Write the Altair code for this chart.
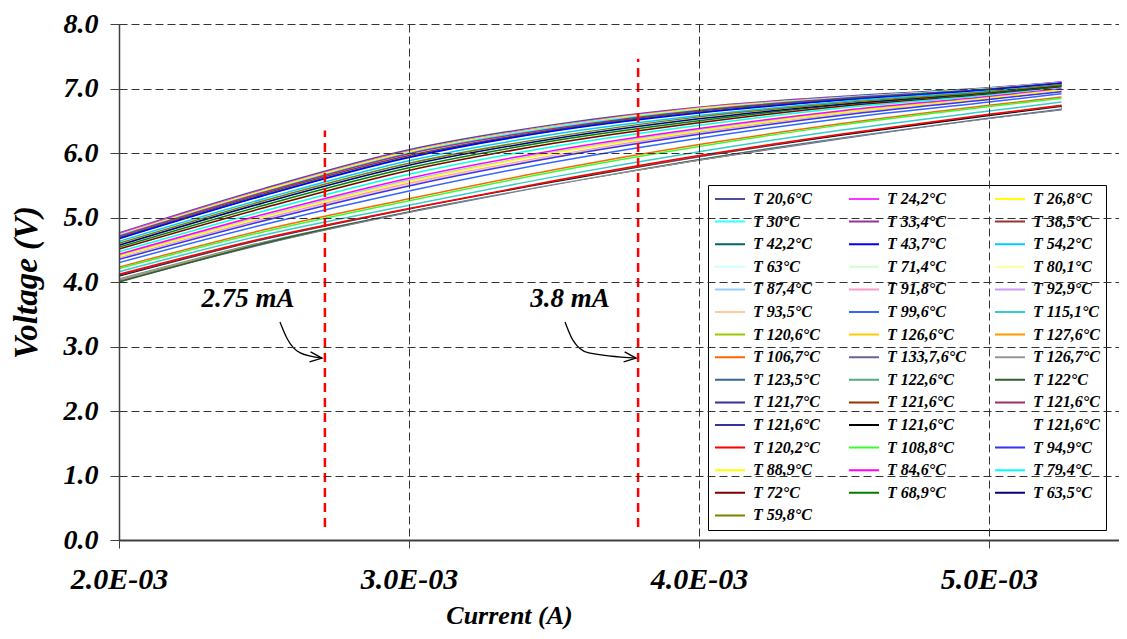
import altair as alt
import pandas as pd

FONT = "Liberation Serif"

# Current (A) sample positions along every curve
CURRENT_A = [0.0020, 0.0025, 0.0030, 0.0035, 0.0040, 0.0045, 0.0050, 0.00525]

SERIES_LABELS = [
    "T 20,6°C", "T 24,2°C", "T 26,8°C",
    "T 30°C", "T 33,4°C", "T 38,5°C",
    "T 42,2°C", "T 43,7°C", "T 54,2°C",
    "T 63°C", "T 71,4°C", "T 80,1°C",
    "T 87,4°C", "T 91,8°C", "T 92,9°C",
    "T 93,5°C", "T 99,6°C", "T 115,1°C",
    "T 120,6°C", "T 126,6°C", "T 127,6°C",
    "T 106,7°C", "T 133,7,6°C", "T 126,7°C",
    "T 123,5°C", "T 122,6°C", "T 122°C",
    "T 121,7°C", "T 121,6°C", "T 121,6°C",
    "T 121,6°C", "T 121,6°C", "T 121,6°C",
    "T 120,2°C", "T 108,8°C", "T 94,9°C",
    "T 88,9°C", "T 84,6°C", "T 79,4°C",
    "T 72°C", "T 68,9°C", "T 63,5°C",
    "T 59,8°C",
]

SERIES_COLORS = [
    "#4D4D99", "#FF33FF", "#FFFF00",
    "#33FFFF", "#993399", "#993333",
    "#006666", "#0000FF", "#00CCFF",
    "#CCFFFF", "#CCFFCC", "#FFFF99",
    "#99CCFF", "#FF99CC", "#CC99FF",
    "#FFCC99", "#3366FF", "#33CCCC",
    "#99CC00", "#FFCC00", "#FF9900",
    "#FF6600", "#666699", "#969696",
    "#336699", "#55AA80", "#2F5F2F",
    "#333399", "#993300", "#993366",
    "#333399", "#000000", "#FFFFFF",
    "#FF0000", "#33FF33", "#3333FF",
    "#FFFF00", "#FF00FF", "#00FFFF",
    "#800000", "#008000", "#000080",
    "#808000",
]

# Voltage (V) of each series at CURRENT_A
VOLTAGES = [
    [4.76, 5.45, 6.05, 6.44, 6.71, 6.88, 7.01, 7.10],
    [4.75, 5.43, 6.03, 6.42, 6.70, 6.87, 7.00, 7.10],
    [4.73, 5.42, 6.02, 6.41, 6.69, 6.86, 7.00, 7.09],
    [4.72, 5.40, 6.00, 6.40, 6.67, 6.86, 7.00, 7.09],
    [4.71, 5.39, 5.99, 6.38, 6.66, 6.85, 6.99, 7.09],
    [4.69, 5.37, 5.96, 6.36, 6.65, 6.84, 6.99, 7.08],
    [4.68, 5.35, 5.94, 6.35, 6.63, 6.83, 6.98, 7.08],
    [4.67, 5.34, 5.93, 6.34, 6.62, 6.82, 6.98, 7.08],
    [4.63, 5.29, 5.88, 6.29, 6.58, 6.80, 6.96, 7.06],
    [4.58, 5.23, 5.81, 6.23, 6.54, 6.77, 6.94, 7.05],
    [4.52, 5.16, 5.74, 6.16, 6.48, 6.73, 6.92, 7.03],
    [4.46, 5.09, 5.66, 6.09, 6.42, 6.69, 6.90, 7.02],
    [4.41, 5.02, 5.58, 6.01, 6.36, 6.64, 6.86, 6.98],
    [4.37, 4.98, 5.53, 5.96, 6.32, 6.61, 6.84, 6.96],
    [4.37, 4.97, 5.51, 5.95, 6.31, 6.60, 6.84, 6.96],
    [4.36, 4.96, 5.51, 5.95, 6.30, 6.60, 6.84, 6.96],
    [4.30, 4.89, 5.41, 5.86, 6.23, 6.54, 6.79, 6.92],
    [4.16, 4.73, 5.19, 5.63, 6.02, 6.36, 6.65, 6.79],
    [4.11, 4.67, 5.13, 5.56, 5.95, 6.29, 6.59, 6.73],
    [4.04, 4.61, 5.10, 5.52, 5.90, 6.25, 6.55, 6.69],
    [4.03, 4.60, 5.09, 5.52, 5.89, 6.24, 6.54, 6.68],
    [4.23, 4.81, 5.29, 5.74, 6.13, 6.46, 6.74, 6.87],
    [4.01, 4.59, 5.08, 5.51, 5.89, 6.23, 6.54, 6.67],
    [4.03, 4.60, 5.09, 5.52, 5.89, 6.24, 6.54, 6.68],
    [4.06, 4.63, 5.10, 5.53, 5.91, 6.25, 6.55, 6.69],
    [4.07, 4.63, 5.10, 5.53, 5.91, 6.26, 6.56, 6.70],
    [4.00, 4.60, 5.10, 5.53, 5.91, 6.26, 6.56, 6.70],
    [4.10, 4.66, 5.13, 5.55, 5.94, 6.28, 6.58, 6.72],
    [4.09, 4.66, 5.12, 5.55, 5.93, 6.28, 6.58, 6.72],
    [4.09, 4.65, 5.12, 5.54, 5.93, 6.27, 6.57, 6.71],
    [4.08, 4.65, 5.11, 5.54, 5.92, 6.27, 6.57, 6.71],
    [4.08, 4.64, 5.11, 5.54, 5.92, 6.27, 6.57, 6.71],
    [4.07, 4.64, 5.11, 5.53, 5.92, 6.26, 6.56, 6.70],
    [4.12, 4.68, 5.14, 5.57, 5.96, 6.30, 6.60, 6.74],
    [4.21, 4.78, 5.26, 5.71, 6.10, 6.44, 6.72, 6.85],
    [4.35, 4.95, 5.49, 5.93, 6.29, 6.59, 6.83, 6.95],
    [4.40, 5.01, 5.56, 6.00, 6.34, 6.63, 6.86, 6.98],
    [4.43, 5.05, 5.61, 6.04, 6.38, 6.66, 6.88, 7.00],
    [4.47, 5.10, 5.67, 6.10, 6.43, 6.70, 6.90, 7.02],
    [4.51, 5.15, 5.73, 6.15, 6.47, 6.73, 6.92, 7.03],
    [4.54, 5.19, 5.77, 6.19, 6.50, 6.75, 6.93, 7.04],
    [4.57, 5.23, 5.81, 6.22, 6.53, 6.76, 6.94, 7.05],
    [4.60, 5.26, 5.84, 6.25, 6.56, 6.78, 6.95, 7.06],
]

X_TICKS = [0.002, 0.003, 0.004, 0.005]
Y_TICKS = [0, 1, 2, 3, 4, 5, 6, 7, 8]

# red dashed markers
MARK_X = [0.00271, 0.00379]
MARK_TOP = [6.35, 7.46]
MARK_BOTTOM = [0.2, 0.2]

# curved arrows
ARROW_ID = ["a", "a", "a", "a", "b", "b", "b", "b"]
ARROW_X = [0.002555, 0.002580, 0.002625, 0.002700, 0.003538, 0.003565, 0.003620, 0.003783]
ARROW_Y = [3.38, 3.12, 2.90, 2.82, 3.38, 3.10, 2.90, 2.82]
HEAD_X = [0.002700, 0.003783]
HEAD_Y = [2.82, 2.82]

ANNOT_TEXT = ["2.75 mA", "3.8 mA"]
ANNOT_X = [0.002445, 0.003555]
ANNOT_Y = [3.74, 3.74]

# ---- build tables
keys = []
seen = {}
for lab in SERIES_LABELS:
    n = seen.get(lab, 0)
    seen[lab] = n + 1
    keys.append(f"{lab}#{n}")

rows = []
for order, (key, volts) in enumerate(zip(keys, VOLTAGES)):
    for c, v in zip(CURRENT_A, volts):
        rows.append({"series": key, "order": order, "current": c, "voltage": v})
curve_df = pd.DataFrame(rows)

mark_df = pd.DataFrame({"current": MARK_X, "voltage": MARK_BOTTOM, "voltage2": MARK_TOP})
arrow_df = pd.DataFrame({"arrow": ARROW_ID, "current": ARROW_X, "voltage": ARROW_Y})
head_df = pd.DataFrame({"current": HEAD_X, "voltage": HEAD_Y})
text_df = pd.DataFrame({"current": ANNOT_X, "voltage": ANNOT_Y, "text": ANNOT_TEXT})

x_scale = alt.Scale(domain=[0.002, 0.0054483], nice=False, zero=False)
y_scale = alt.Scale(domain=[0, 8], nice=False, zero=False)

common_axis = dict(
    grid=True, gridDash=[8, 4], gridColor="#333333", gridWidth=1,
    domainColor="#404040", tickColor="#404040",
    labelFont=FONT, labelFontStyle="italic", labelFontWeight="bold", labelColor="black",
    titleFont=FONT, titleFontStyle="italic", titleFontWeight="bold", titleColor="black",
    zindex=1,
)

x_axis = alt.Axis(
    values=X_TICKS,
    labelExpr="format(datum.value * 1000, '.1f') + 'E-03'",
    title="Current (A)", labelFlush=False,
    domainWidth=2, tickSize=8, labelPadding=16, labelFontSize=30,
    titleFontSize=26, titlePadding=8, titleX=390,
    **common_axis,
)
y_axis = alt.Axis(
    values=Y_TICKS, format=".1f", title="Voltage (V)",
    domainWidth=1.5, tickSize=9, labelPadding=12, labelFontSize=28,
    titleFontSize=33, titlePadding=20,
    **common_axis,
)

X = alt.X("current:Q", scale=x_scale, axis=x_axis)
Y = alt.Y("voltage:Q", scale=y_scale, axis=y_axis)

legend = alt.Legend(
    title=None, orient="none", legendX=589, legendY=161, columns=3, direction="horizontal",
    symbolLimit=60,
    symbolType="stroke", symbolSize=900, symbolStrokeWidth=2, symbolOpacity=1,
    labelFont=FONT, labelFontSize=16, labelFontStyle="italic", labelFontWeight="bold",
    labelColor="black", labelOffset=7, labelLimit=200,
    labelExpr="split(datum.label, '#')[0]",
    clipHeight=16, rowPadding=6.6, columnPadding=28, gridAlign="each",
    padding=6, strokeColor="black", fillColor="white",
)

curves = alt.Chart(curve_df).mark_line(strokeWidth=1.5, interpolate="monotone").encode(
    x=X, y=Y,
    color=alt.Color("series:N", scale=alt.Scale(domain=keys, range=SERIES_COLORS), legend=legend),
    order=alt.Order("order:Q"),
)

markers = alt.Chart(mark_df).mark_rule(color="#FF0000", strokeWidth=2.5, strokeDash=[9, 6]).encode(
    x=X, y=Y, y2="voltage2:Q"
)

arrows = alt.Chart(arrow_df).mark_line(color="black", strokeWidth=1.3, interpolate="monotone").encode(
    x=X, y=Y, detail="arrow:N"
)

heads = alt.Chart(head_df).mark_point(
    shape="M-1.2,-0.5L0,0L-1.2,0.5", filled=False, color="black", strokeWidth=1.3,
    size=400, opacity=1, angle=6,
).encode(x=X, y=Y)

texts = alt.Chart(text_df).mark_text(
    font=FONT, fontSize=27, fontStyle="italic", fontWeight="bold", color="black",
    align="center", baseline="middle",
).encode(x=X, y=Y, text="text:N")

chart = alt.layer(curves, markers, arrows, heads, texts).properties(
    width=1000, height=516,
    padding={"left": 111, "top": 16, "right": 0, "bottom": 90},
    autosize=alt.AutoSizeParams(type="none"),
).configure_view(strokeWidth=0)

chart.save("out.html", embed_options={"renderer": "svg", "actions": False})
